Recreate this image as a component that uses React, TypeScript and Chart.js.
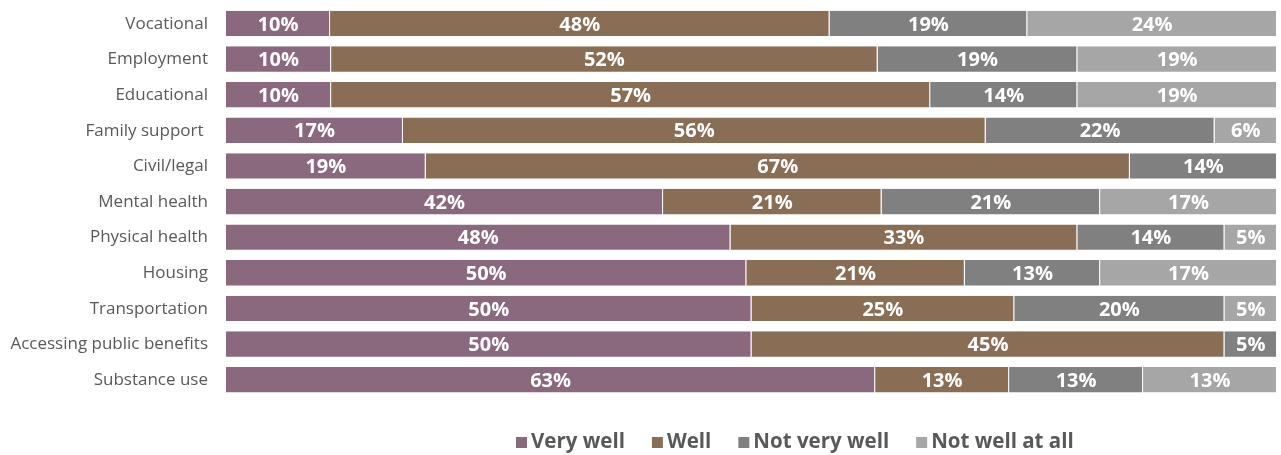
import React, { useEffect, useRef } from "react";
import { Chart, registerables } from "chart.js";

Chart.register(...registerables);

const categories = [
  "Vocational",
  "Employment",
  "Educational",
  "Family support ",
  "Civil/legal",
  "Mental health",
  "Physical health",
  "Housing",
  "Transportation",
  "Accessing public benefits",
  "Substance use",
];

const seriesNames = ["Very well", "Well", "Not very well", "Not well at all"];
const seriesColors = ["#8A687E", "#8A6D55", "#808080", "#A6A6A6"];

const veryWell = [10, 10, 10, 17, 19, 42, 48, 50, 50, 50, 63];
const well = [48, 52, 57, 56, 67, 21, 33, 21, 25, 45, 13];
const notVeryWell = [19, 19, 14, 22, 14, 21, 14, 13, 20, 5, 13];
const notWellAtAll = [24, 19, 19, 6, 0, 17, 5, 17, 5, 0, 13];

const seriesValues = [veryWell, well, notVeryWell, notWellAtAll];

const TEXT_COLOR = "#595959";
const FONT = "'Open Sans', 'Noto Sans', sans-serif";

export default function App() {
  const canvasRef = useRef<HTMLCanvasElement | null>(null);

  useEffect(() => {
    const canvas = canvasRef.current;
    if (!canvas) return;

    const totals = categories.map((_, i) =>
      seriesValues.reduce((s, arr) => s + arr[i], 0)
    );

    const datasets = seriesValues.map((arr, k) => ({
      label: seriesNames[k],
      data: arr.map((v, i) => (v / totals[i]) * 100),
      rawValues: arr,
      backgroundColor: seriesColors[k],
      borderColor: "rgba(255,255,255,0.35)",
      borderWidth: { right: 1, bottom: 1, top: 0, left: 0 },
      borderSkipped: false,
      barPercentage: 0.74,
      categoryPercentage: 1,
    }));

    const dataLabels = {
      id: "dataLabels",
      afterDatasetsDraw(chart: any) {
        const ctx = chart.ctx;
        ctx.save();
        ctx.font = `bold 20px ${FONT}`;
        ctx.fillStyle = "#FFFFFF";
        ctx.textAlign = "center";
        ctx.textBaseline = "middle";
        chart.data.datasets.forEach((ds: any, di: number) => {
          const meta = chart.getDatasetMeta(di);
          meta.data.forEach((el: any, i: number) => {
            const raw = ds.rawValues[i];
            if (!raw) return;
            const cx = (el.x + el.base) / 2;
            ctx.fillText(`${raw}%`, cx, el.y + 1);
          });
        });
        ctx.restore();
      },
    };

    const customLegend = {
      id: "customLegend",
      afterDraw(chart: any) {
        const ctx = chart.ctx;
        ctx.save();
        ctx.font = `bold 20.5px ${FONT}`;
        const box = 11;
        const gapBoxText = 4;
        const gapItems = 27;
        const widths = seriesNames.map((n) => ctx.measureText(n).width);
        const total =
          widths.reduce((s, w) => s + box + gapBoxText + w, 0) +
          gapItems * (seriesNames.length - 1);
        const centerX = chart.width * 0.6205;
        let x = centerX - total / 2;
        const baseline = 448;
        ctx.textBaseline = "alphabetic";
        ctx.textAlign = "left";
        seriesNames.forEach((n, k) => {
          ctx.fillStyle = seriesColors[k];
          ctx.fillRect(x, baseline - box, box, box);
          x += box + gapBoxText;
          ctx.fillStyle = TEXT_COLOR;
          ctx.fillText(n, x, baseline);
          x += widths[k] + gapItems;
        });
        ctx.restore();
      },
    };

    const chart = new Chart(canvas, {
      type: "bar",
      data: { labels: categories, datasets: datasets as any },
      options: {
        indexAxis: "y",
        animation: false,
        responsive: true,
        maintainAspectRatio: false,
        layout: { padding: { left: 0, right: 4, top: 6, bottom: 57 } },
        plugins: {
          legend: { display: false },
          tooltip: { enabled: false },
        },
        scales: {
          x: {
            stacked: true,
            min: 0,
            max: 100,
            display: false,
          },
          y: {
            stacked: true,
            grid: { display: false, drawTicks: false, tickLength: 0 },
            border: { display: false },
            ticks: {
              color: TEXT_COLOR,
              padding: 18,
              font: { family: FONT, size: 17 },
            },
            afterFit(scale: any) {
              scale.width = 226;
              scale.paddingTop = 0;
              scale.paddingBottom = 0;
            },
          },
        },
      },
      plugins: [dataLabels, customLegend],
    });

    return () => chart.destroy();
  }, []);

  return (
    <div
      style={{
        position: "fixed",
        left: 0,
        top: 0,
        width: 1281,
        height: 455,
        background: "#FFFFFF",
      }}
    >
      <canvas ref={canvasRef} />
    </div>
  );
}
